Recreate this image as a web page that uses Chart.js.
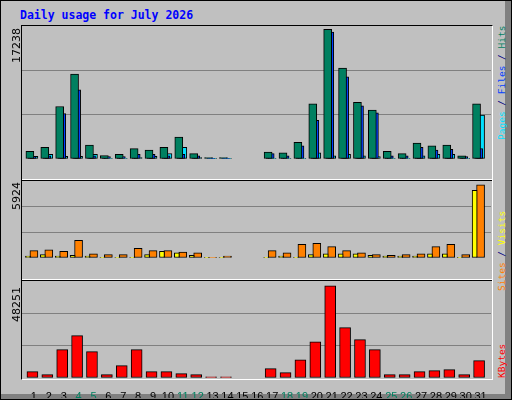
<!DOCTYPE html>
<html>
<head>
<meta charset="utf-8">
<script src="https://cdn.jsdelivr.net/npm/chart.js@4/dist/chart.umd.min.js"></script>
<style>
  body { margin: 0; }
  #frame { position: relative; width: 510px; height: 398px; background: #c0c0c0; border: 1px solid #000;
           box-shadow: inset -6px -5px 0 #808080; overflow: hidden; font-family: "DejaVu Sans", sans-serif; }
  #frame canvas { position: absolute; left: 21px; }
  .title { position: absolute; left: 19px; top: 7px; font: bold 11.5px "DejaVu Sans Mono", monospace; color: #0000ff; }
  .plot { position: absolute; left: 20px; top: 24px; width: 470px; height: 353px;
          border-top: 1px solid #000; border-left: 1px solid #000; border-right: 1px solid #fff; border-bottom: 1px solid #fff; }
  .sep { position: absolute; left: 21px; width: 470px; height: 1px; background: #fff; border-bottom: 1px solid #000; }
  .vl { position: absolute; transform-origin: 0 0; transform: rotate(-90deg); white-space: nowrap; font-size: 11px; }
  .vr { position: absolute; transform-origin: 0 0; transform: rotate(-90deg); white-space: nowrap;
        font: 9.5px "DejaVu Sans Mono", monospace; }
</style>
</head>
<body>
<div id="frame">
  <div class="title">Daily usage for July 2026</div>
  <div class="plot"></div>
  <div class="sep" style="top:178px"></div>
  <div class="sep" style="top:278px"></div>
  <canvas id="top" width="469" height="153" style="top:25px"></canvas>
  <canvas id="mid" width="469" height="97" style="top:180px"></canvas>
  <canvas id="bot" width="469" height="117" style="top:280px"></canvas>
  <div class="vl" style="left:9px;top:62px">17238</div>
  <div class="vl" style="left:9px;top:209px">5924</div>
  <div class="vl" style="left:9px;top:321px">48251</div>
  <div class="vr" style="left:495px;top:139px"><span style="color:#00e0ff">Pages</span><span style="color:#000080"> / </span><span style="color:#0040ff">Files</span><span style="color:#000080"> / </span><span style="color:#008060">Hits</span></div>
  <div class="vr" style="left:495px;top:290px"><span style="color:#ff8000">Sites</span><span style="color:#000080"> / </span><span style="color:#ffff00">Visits</span></div>
  <div class="vr" style="left:495px;top:377px"><span style="color:#ff0000">KBytes</span></div>
</div>
<script>
const days = [1,2,3,4,5,6,7,8,9,10,11,12,13,14,15,16,17,18,19,20,21,22,23,24,25,26,27,28,29,30,31];
const weekend = [4,5,11,12,18,19,25,26];

const hits   = [1000,1500,6800,11000,1800,450,600,1350,1150,1500,2850,700,200,200,0,0,900,800,2150,7150,16800,11800,7350,6350,1000,700,2050,1700,1800,400,7150];
const files  = [350,400,5900,8950,400,300,300,600,600,400,600,400,100,100,0,0,700,400,1700,5000,16450,10650,6900,6000,400,400,1500,1150,1250,300,1350];
const pages  = [350,600,350,350,600,100,100,200,350,700,1500,200,100,100,0,0,100,100,100,800,400,600,400,300,100,100,400,600,600,100,5700];
const sites  = [570,630,510,1360,330,265,265,750,570,570,450,390,50,140,0,0,570,390,1060,1120,880,570,390,265,200,265,330,880,1060,265,5630];
const visits = [140,265,140,200,140,60,60,60,265,510,390,200,30,30,0,0,60,140,60,265,330,330,330,200,140,140,140,330,330,60,5200];
const kbytes = [3150,1650,14100,21050,13100,1650,6150,14100,3150,3150,2150,1650,600,600,0,0,4650,2650,9100,18050,45900,25050,19050,14100,1650,1650,3150,3650,4150,1650,8650];

const maxTop = 17238, maxMid = 5924, maxBot = 48251;

function pts(arr, off) { return arr.map((v, i) => ({ x: days[i] + off, y: v })); }
function ds(arr, off, color, w) {
  return { data: pts(arr, off), backgroundColor: color, borderColor: "#000", borderWidth: 1,
           barThickness: w, borderSkipped: false, grouped: false };
}
function opts(max, showX) {
  return {
    responsive: false, animation: false,
    layout: { padding: 0 },
    plugins: { legend: { display: false }, tooltip: { enabled: false } },
    scales: {
      x: {
        type: "linear", min: 0.2, max: 31.7, offset: false, display: showX,
        border: { display: false }, grid: { display: false },
        afterFit: (a) => { a.height = 20; },
        afterBuildTicks: (a) => { a.ticks = days.map(d => ({ value: d })); },
        ticks: {
          autoSkip: false, maxRotation: 0, padding: 4,
          font: { family: "Liberation Sans", size: 11 },
          color: (c) => weekend.includes(c.tick.value) ? "#008060" : "#000",
          callback: (v) => String(v)
        }
      },
      y: {
        min: 0, max: max,
        afterBuildTicks: (a) => { a.ticks = [0, max / 3, 2 * max / 3, max].map(v => ({ value: v })); },
        afterFit: (a) => { a.width = 0; },
        border: { display: false },
        ticks: { display: false },
        grid: { drawTicks: false, color: (c) => (c.index === 1 || c.index === 2) ? "#808080" : "rgba(0,0,0,0)" }
      }
    }
  };
}

new Chart(document.getElementById("top"), {
  type: "bar",
  data: { datasets: [ ds(hits, -0.27, "#008060", 8), ds(files, -0.13, "#0040ff", 8), ds(pages, 0, "#00e0ff", 8) ] },
  options: opts(maxTop, false)
});
new Chart(document.getElementById("mid"), {
  type: "bar",
  data: { datasets: [ ds(visits, -0.4, "#ffff00", 5), ds(sites, 0, "#ff8000", 8) ] },
  options: opts(maxMid, false)
});
new Chart(document.getElementById("bot"), {
  type: "bar",
  data: { datasets: [ ds(kbytes, -0.1, "#ff0000", 11) ] },
  options: opts(maxBot, true)
});
</script>
</body>
</html>
